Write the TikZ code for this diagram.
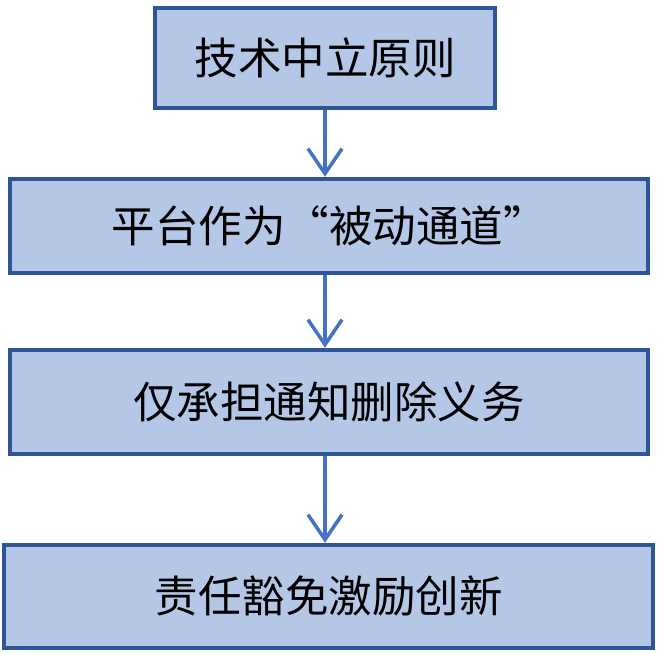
\documentclass[tikz,border=0pt]{standalone}
\usepackage{fontspec}
\setmainfont{Noto Sans CJK SC}
\usetikzlibrary{arrows.meta}
\definecolor{boxfill}{HTML}{B4C7E7}
\definecolor{boxline}{HTML}{2F5597}
\definecolor{arrowcol}{HTML}{4472C4}
\tikzset{
  stepbox/.style={draw=boxline, line width=4.5pt, fill=boxfill, inner sep=0pt,
    font=\fontsize{43.5}{50}\selectfont, text=black},
  flow/.style={draw=arrowcol, line width=3.5pt, -{Straight Barb[length=25pt, width=34pt]}}
}
\begin{document}
\begin{tikzpicture}[x=1pt, y=-1pt]
\useasboundingbox (0,0) rectangle (658,653);
\node[stepbox, minimum width=340pt, minimum height=100pt] (b1) at (325,58) {技术中立原则};
\node[stepbox, minimum width=638pt, minimum height=94pt] (b2) at (329,226) {平台作为“被动通道”};
\node[stepbox, minimum width=638pt, minimum height=104pt] (b3) at (329,402) {仅承担通知删除义务};
\node[stepbox, minimum width=649pt, minimum height=103pt] (b4) at (328.5,596.5) {责任豁免激励创新};
\draw[flow] (b1.south) -- (b1.south |- b2.north);
\draw[flow] (b2.south -| b1.south) -- (b1.south |- b3.north);
\draw[flow] (b3.south -| b1.south) -- (b1.south |- b4.north);
\end{tikzpicture}
\end{document}
